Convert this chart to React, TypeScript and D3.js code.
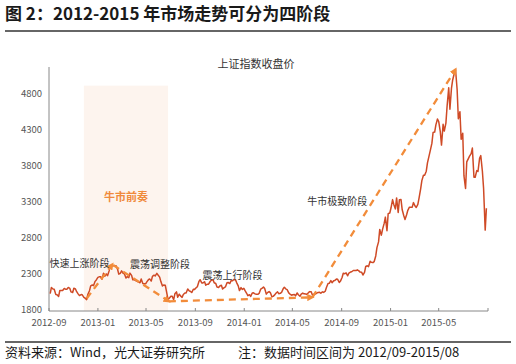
import * as d3 from 'd3'

// Shanghai Composite closes, two samples a week (Tue, Fri)
const closes2012 = [
  2043, 2128, 2106, 2102, 2029, 2027, 2004, 2086, 2086, 2086, 2114, 2104, 2104, 2128, 2115, 2066,
  2058, 2117, 2106, 2069, 2035, 2015, 2029, 2026, 1991, 1980, 1959, 2033, 2083, 2150, 2162, 2153,
  2213, 2233,
]
const closes2013 = [
  2269, 2276, 2276, 2243, 2327, 2284, 2316, 2292, 2359, 2419,
  2434, 2432, 2432, 2432, 2382, 2314, 2326, 2359,
  2326, 2318, 2259, 2278, 2265, 2328, 2297, 2236,
  2234, 2225, 2212, 2206, 2194, 2245, 2184, 2178, 2178, 2205,
  2236, 2247, 2217, 2283, 2299, 2288, 2324, 2301,
  2272, 2210, 2149, 2162, 2159, 2073, 1959, 1979,
  2006, 2007, 1959, 2039, 2066, 1992, 2034, 2010, 1990, 2029,
  2050, 2052, 2106, 2085, 2072, 2057, 2103, 2098,
  2123, 2139, 2212, 2236, 2191, 2191, 2207, 2160,
  2174, 2174, 2211, 2228, 2237, 2193, 2183, 2133, 2128, 2149,
  2158, 2106, 2126, 2135, 2193, 2197, 2183, 2220,
  2222, 2238, 2237, 2196, 2151, 2085, 2126, 2101,
]
const closes2014 = [
  2116, 2083, 2047, 2013, 2027, 2004, 2051, 2054, 2039, 2033,
  2033, 2044, 2104, 2115, 2133, 2113, 2035, 2056,
  2071, 2057, 1998, 2004, 2025, 2047, 2067, 2041,
  2047, 2058, 2109, 2130, 2105, 2097, 2052, 2036, 2020, 2027,
  2029, 2011, 2051, 2026, 2005, 2034, 2050, 2039,
  2038, 2030, 2053, 2070, 2067, 2024, 2034, 2036,
  2050, 2059, 2060, 2047, 2067, 2059, 2075, 2127, 2183, 2185,
  2224, 2194, 2222, 2226, 2245, 2241, 2197, 2217,
  2266, 2326, 2319, 2331, 2291, 2329, 2343, 2347,
  2364, 2364, 2364, 2374, 2359, 2342, 2339, 2302, 2337, 2420,
  2430, 2418, 2494, 2478, 2474, 2487, 2567, 2683,
  2763, 2937, 2856, 2938, 3021, 3108, 2919, 3157,
]
const closes2015 = [
  3166, 3235, 3352, 3285, 3223, 3376, 3173, 3351, 3352, 3210,
  3128, 3076, 3141, 3203, 3247, 3247, 3247, 3310,
  3263, 3242, 3286, 3373, 3503, 3617, 3691, 3691,
  3748, 3864, 3961, 4034, 4135, 4287, 4293, 4394, 4476, 4441,
  4298, 4112, 4401, 4308, 4418, 4657, 4910, 4611,
  4910, 5023, 5113, 5166, 4887, 4478, 4576, 4192,
  4277, 3686, 3507, 3877, 3924, 3957, 3992, 4070, 3663, 3664,
  3756, 3744, 3928, 3965, 3748, 3507, 2927, 3232,
]

const yTicks = [1800, 2300, 2800, 3300, 3800, 4300, 4800]
const xTicks = ['2012-09', '2013-01', '2013-05', '2013-09', '2014-01', '2014-05', '2014-09', '2015-01', '2015-05', '2015-09']

// phase arrows: [start date, start value, end date, end value]
const phaseArrows: [string, number, string, number][] = [
  ['2012-12-04', 1975, '2013-02-06', 2450],
  ['2013-02-08', 2440, '2013-06-27', 1935],
  ['2013-06-27', 1935, '2014-06-20', 1990],
  ['2014-06-20', 1990, '2015-06-12', 5166],
]
// phase labels: [text, date, value]
const phaseLabels: [string, string, number][] = [
  ['快速上涨阶段', '2012-09-02', 2455],
  ['震荡调整阶段', '2013-03-22', 2442],
  ['震荡上行阶段', '2013-09-19', 2288],
  ['牛市极致阶段', '2014-06-07', 3320],
]
const preludeSpan = ['2012-11-27', '2013-06-25']
const preludeTop = 4940

const parseDay = d3.timeParse('%Y-%m-%d')
const parseMonth = d3.timeParse('%Y-%m')

const width = 516
const height = 364
const marginLeft = 49
const plotRight = 488
const plotBottom = 311
const plotTop = 67

const fontCn = '"Noto Sans CJK SC", "Noto Sans", sans-serif'
const lineColor = '#cf4a26'
const dashColor = '#f28c3a'

export default function App() {
  const closes = [...closes2012, ...closes2013, ...closes2014, ...closes2015]
  const weeks = d3.timeWeek.range(new Date(2012, 8, 2), new Date(2015, 7, 30))
  const dates = weeks.flatMap((w) => [d3.timeDay.offset(w, 2), d3.timeDay.offset(w, 5)])
  const n = Math.min(dates.length, closes.length)
  const series = d3.range(n).map((i) => ({ date: dates[i], value: closes[i] }))

  const x = d3.scaleTime([parseMonth('2012-09')!, parseMonth('2015-09')!], [marginLeft, plotRight])
  const y = d3.scaleLinear([1800, 5200], [plotBottom, plotTop])
  const line = d3
    .line<{ date: Date; value: number }>()
    .x((d) => x(d.date))
    .y((d) => y(d.value))

  const shadeX0 = x(parseDay(preludeSpan[0])!)
  const shadeX1 = x(parseDay(preludeSpan[1])!)

  return (
    <svg
      width={width}
      height={height}
      viewBox={`0 0 ${width} ${height}`}
      style={{ position: 'absolute', left: 0, top: 0, background: '#fff' }}
      fontFamily={fontCn}
    >
      <defs>
        <marker id="arrow" viewBox="0 0 10 10" refX="7" refY="5" markerWidth="3.2" markerHeight="3.2" orient="auto">
          <path d="M0,0 L10,5 L0,10 z" fill={dashColor} />
        </marker>
      </defs>

      <text x={5} y={20} fontSize={17} fontWeight="bold" fill="#1a1a1a">
        图 2：2012-2015 年市场走势可分为四阶段
      </text>
      <line x1={5} x2={511} y1={31} y2={31} stroke="#333" strokeWidth={1.3} />

      <text x={256} y={68} fontSize={11} textAnchor="middle" fill="#333">
        上证指数收盘价
      </text>

      <rect x={shadeX0} y={y(preludeTop)} width={shadeX1 - shadeX0} height={plotBottom - y(preludeTop)} fill="#fdf4ee" />
      <text x={(shadeX0 + shadeX1) / 2} y={y(3377)} fontSize={11} fontWeight="bold" fill="#f08a3c" textAnchor="middle" dominantBaseline="middle">
        牛市前奏
      </text>

      {/* axes */}
      <line x1={marginLeft} x2={marginLeft} y1={plotTop} y2={plotBottom} stroke="#888" strokeWidth={1} />
      <line x1={marginLeft} x2={plotRight} y1={plotBottom} y2={plotBottom} stroke="#888" strokeWidth={1} />
      {yTicks.map((t) => (
        <text key={t} x={marginLeft - 7} y={y(t) - 1} fontSize={9.5} textAnchor="end" dominantBaseline="middle" fill="#555">
          {t}
        </text>
      ))}
      {xTicks.map((t, i) => {
        const xp = x(parseMonth(t)!)
        return (
          <g key={t}>
            <line x1={xp} x2={xp} y1={plotBottom} y2={plotBottom - 3} stroke="#888" />
            {i < xTicks.length - 1 && (
              <text x={xp} y={plotBottom + 15} fontSize={9.5} textAnchor="middle" fill="#555">
                {t}
              </text>
            )}
          </g>
        )
      })}

      <path d={line(series) || undefined} fill="none" stroke={lineColor} strokeWidth={1.5} strokeLinejoin="round" />

      {phaseArrows.map(([d0, v0, d1, v1], i) => (
        <line
          key={i}
          x1={x(parseDay(d0)!)}
          y1={y(v0)}
          x2={x(parseDay(d1)!)}
          y2={y(v1)}
          stroke={dashColor}
          strokeWidth={2.3}
          strokeDasharray="7 5"
          markerEnd="url(#arrow)"
        />
      ))}

      {phaseLabels.map(([label, d, v]) => (
        <text key={label} x={x(parseDay(d)!)} y={y(v)} fontSize={10} fill="#333" dominantBaseline="middle">
          {label}
        </text>
      ))}

      <line x1={5} x2={511} y1={342} y2={342} stroke="#333" strokeWidth={1.3} />
      <text x={5} y={357} fontSize={13} fill="#1a1a1a">
        资料来源：Wind，光大证券研究所
      </text>
      <text x={238} y={357} fontSize={13} fill="#1a1a1a">
        注：数据时间区间为 2012/09-2015/08
      </text>
    </svg>
  )
}
